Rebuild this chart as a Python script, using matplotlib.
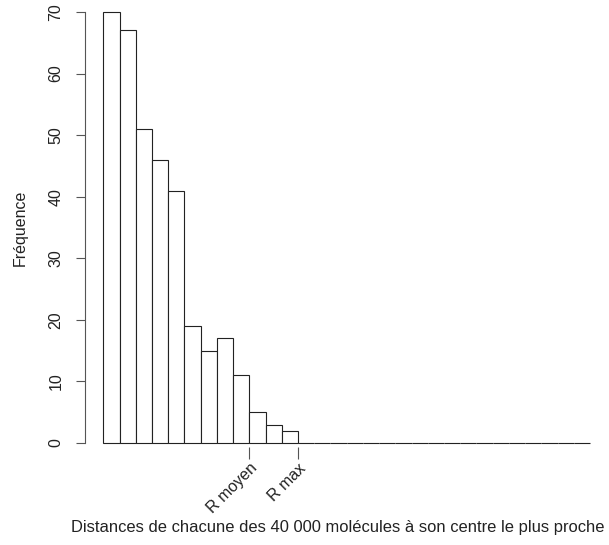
import matplotlib
matplotlib.use('Agg')
import matplotlib.pyplot as plt

# histogram counts per distance bin (unit-width bins, 0 to 30)
counts = [70, 67, 51, 46, 41, 19, 15, 17, 11, 5, 3, 2,
          0, 0, 0, 0, 0, 0, 0, 0, 0, 0, 0, 0, 0, 0, 0, 0, 0, 0]
bin_left = list(range(len(counts)))
mark_pos = [9, 12]
mark_labels = ['R moyen', 'R max']
yticks = [0, 10, 20, 30, 40, 50, 60, 70]

plt.rcParams['font.family'] = ['Liberation Sans', 'DejaVu Sans']
fs = 11.5

fig = plt.figure(figsize=(6.09, 5.45), dpi=100)
W, H = 609, 545
ax = fig.add_axes([85 / W, (H - 443) / H, (590 - 85) / W, (443 - 12) / H])

ax.bar(bin_left, counts, width=1, align='edge', color='white',
       edgecolor='#222222', linewidth=0.8, clip_on=False)

ax.set_xlim(-1.128, 30)
ax.set_ylim(0, 70)

for s in ['top', 'right']:
    ax.spines[s].set_visible(False)
ax.spines['bottom'].set_visible(False)
ax.spines['bottom'].set_position(('outward', 3))
ax.spines['left'].set_color('#555555')
ax.spines['left'].set_linewidth(0.8)

ax.set_yticks(yticks)
ax.set_yticklabels([str(v) for v in yticks], rotation=90, va='center')
ax.tick_params(axis='y', length=6.5, width=0.8, color='#555555', pad=9,
               labelsize=fs, labelcolor='#222222')

ax.set_xticks(mark_pos)
ax.set_xticklabels(mark_labels)
ax.tick_params(axis='x', length=8.6, width=0.8, color='#555555', pad=1,
               labelsize=fs, labelcolor='#222222')
plt.setp(ax.get_xticklabels(), rotation=45, ha='right', va='top',
         rotation_mode='anchor')

fig.text(20 / W, (H - 228) / H, 'Fréquence', rotation=90, ha='center',
         va='center', fontsize=fs, color='#222222')
fig.text(338 / W, (H - 532) / H, 'Distances de chacune des 40 000 molécules à son centre le plus proche',
         ha='center', va='baseline', fontsize=11.9, color='#222222')

fig.savefig('out.png', dpi=100)
